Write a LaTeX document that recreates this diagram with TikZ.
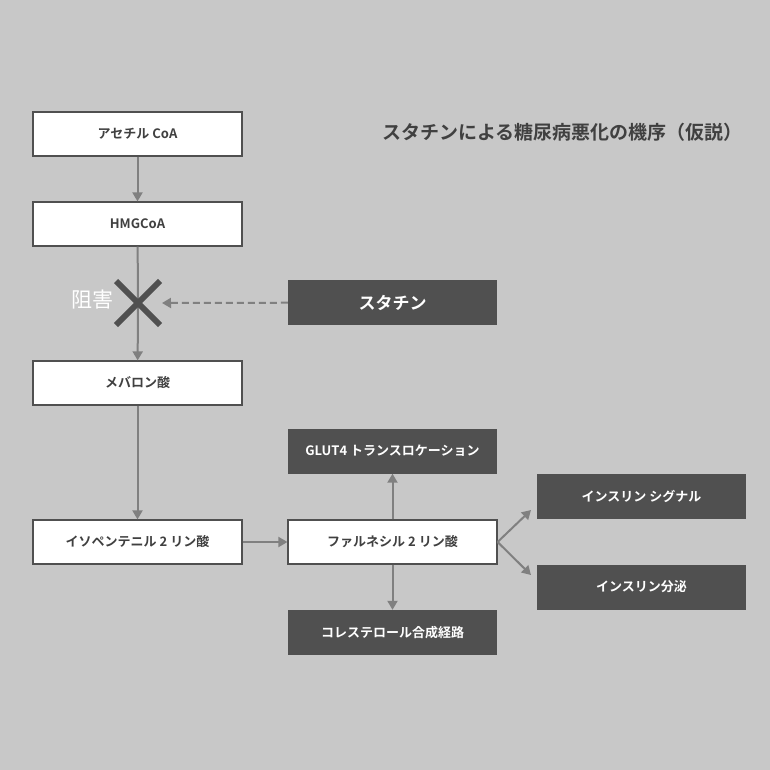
\documentclass[tikz,border=0pt]{standalone}
\usepackage{fontspec}
\setmainfont{Noto Sans CJK JP}
\newfontfamily\jpb{Noto Sans CJK JP Bold}
\usetikzlibrary{arrows.meta}
\definecolor{bg}{HTML}{C8C8C8}
\definecolor{dk}{HTML}{505050}
\definecolor{ar}{HTML}{808080}
\definecolor{tx}{HTML}{404040}
\tikzset{
 wbox/.style={draw=dk,line width=1.2pt,fill=white,minimum width=209pt,minimum height=44pt,inner sep=0pt,font=\jpb\fontsize{13}{15}\selectfont,text=tx},
 dbox/.style={fill=dk,minimum width=209pt,minimum height=45pt,inner sep=0pt,font=\jpb\fontsize{13}{15}\selectfont,text=white},
 arr/.style={draw=ar,line width=2pt,-{Triangle[length=9pt,width=10pt]}}
}
\begin{document}
\begin{tikzpicture}[x=1pt,y=-1pt]
\fill[bg] (0,0) rectangle (770,770);
\useasboundingbox (0,0) rectangle (770,770);
\node[wbox] (a) at (137.5,134) {アセチル CoA};
\node[wbox] (h) at (137.5,224) {HMGCoA};
\node[wbox] (m) at (137.5,383) {メバロン酸};
\node[wbox] (i) at (137.5,542) {イソペンテニル 2 リン酸};
\node[wbox] (f) at (392.5,542) {ファルネシル 2 リン酸};
\node[dbox] (s) at (392.5,302.5) {\fontsize{17}{20}\selectfont スタチン};
\node[dbox] (g) at (392.5,451) {GLUT4 トランスロケーション};
\node[dbox] (c) at (392.5,632.5) {コレステロール合成経路};
\node[dbox] (is) at (641.5,496.5) {インスリン シグナル};
\node[dbox] (ib) at (641.5,587) {インスリン分泌};
\node[font=\jpb\fontsize{19}{22}\selectfont,text=tx,anchor=east] (t) at (746,132) {スタチンによる糖尿病悪化の機序（仮説）};
\coordinate (x) at (138,303);
\node[font=\fontsize{21}{24}\selectfont,text=white,anchor=east] (z) at (117,300) {阻害};
\draw[arr] (a) -- (h);
\draw[draw=ar,line width=2pt] (h) -- (x);
\draw[arr] (x) -- (m);
\draw[arr] (m) -- (i);
\draw[arr] (i) -- (f);
\draw[arr] (f) -- (g);
\draw[arr] (f) -- (c);
\draw[arr,dashed,dash pattern=on 7pt off 4pt] (s) -- (162,303);
\draw[arr] (f.east) -- (531,510);
\draw[arr] (f.east) -- (531,575);
\draw[dk,line width=6pt] (116,281) -- (160,325) (116,325) -- (160,281);
\end{tikzpicture}
\end{document}
